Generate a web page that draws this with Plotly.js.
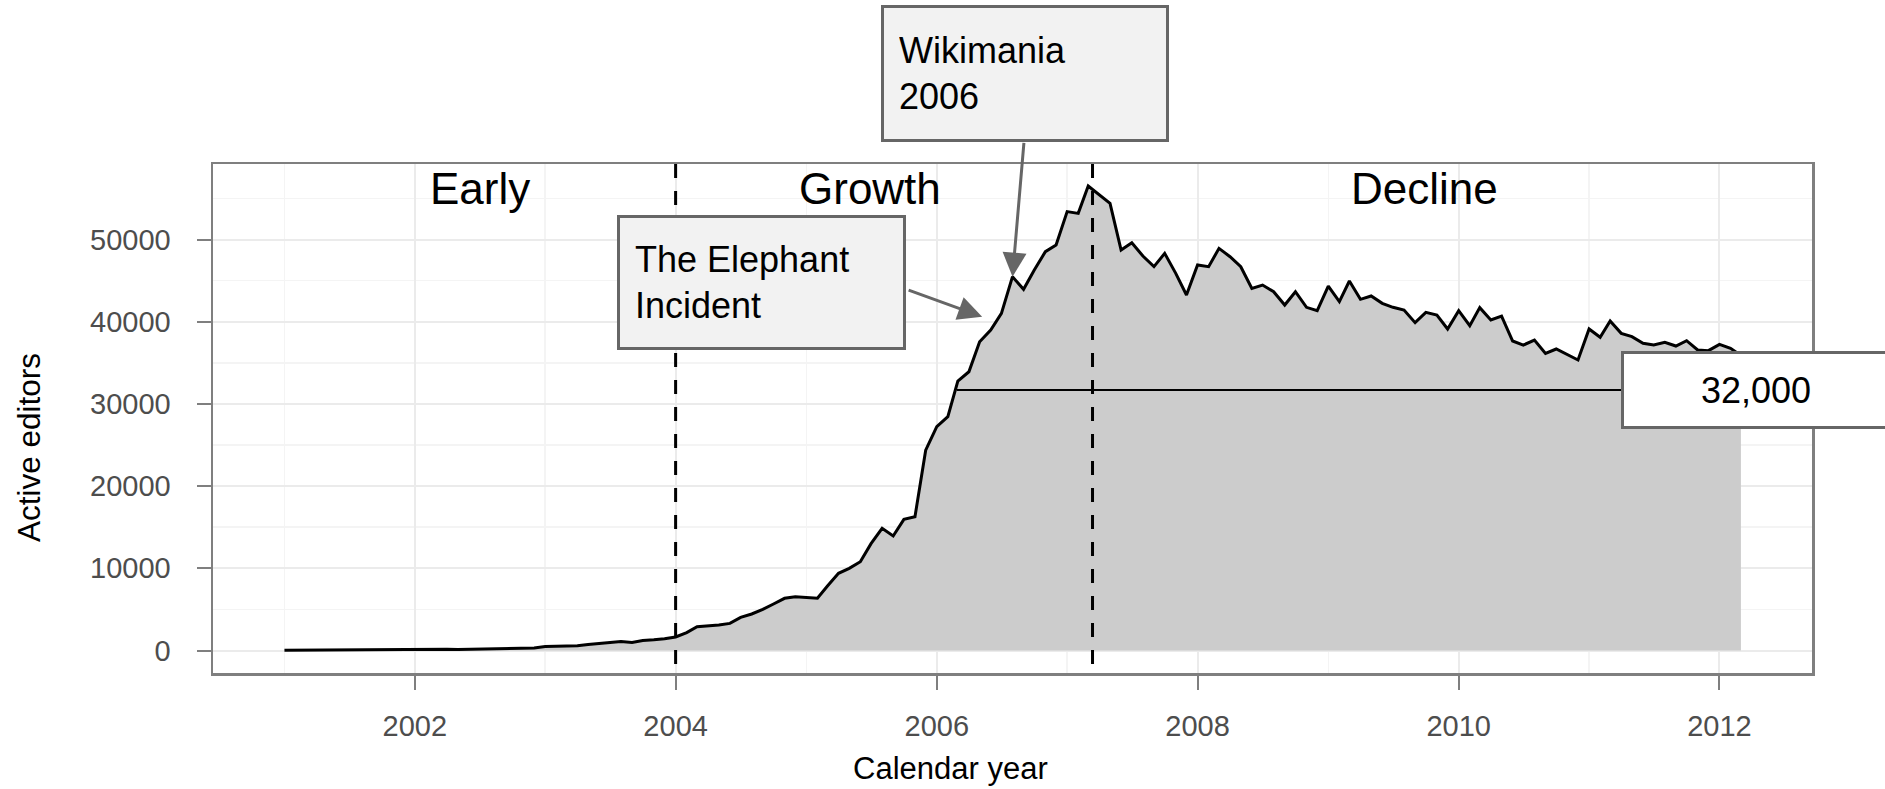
<!DOCTYPE html>
<html>
<head>
<meta charset="utf-8">
<script src="https://cdn.plot.ly/plotly-3.0.1.min.js"></script>
<style>
html,body{margin:0;padding:0;background:#fff;}
#chart{width:1885px;height:789px;}
</style>
</head>
<body>
<div id="chart"></div>
<script>
// ---- data: monthly active editors ----
const editors2001 = [20, 30, 40, 50, 60, 70, 80, 90, 100, 110, 120, 125];
const editors2002 = [130, 170, 230, 160, 110, 140, 170, 180, 200, 240, 250, 310];
const editors2003 = [490, 520, 530, 570, 730, 850, 970, 1090, 980, 1220, 1300, 1420];
const editors2004 = [1650, 2170, 2900, 2980, 3100, 3300, 4030, 4440, 5000, 5660, 6350, 6550];
const editors2005 = [6430, 6350, 7850, 9390, 10000, 10800, 13000, 14860, 13930, 15950, 16280, 24370];
const editors2006 = [27230, 28450, 32780, 33910, 37570, 38990, 41020, 45480, 43940, 46290, 48520, 49330];
const editors2007 = [53390, 53180, 56510, 55450, 54400, 48720, 49610, 47990, 46700, 48310, 45880, 43250];
const editors2008 = [46900, 46690, 48920, 47910, 46690, 44060, 44460, 43650, 42030, 43650, 41750, 41340];
const editors2009 = [44340, 42440, 44950, 42720, 43130, 42230, 41750, 41420, 39880, 41140, 40810, 39110];
const editors2010 = [41340, 39520, 41710, 40210, 40690, 37650, 37160, 37770, 36150, 36680, 35950, 35340];
const editors2011 = [39110, 38100, 40080, 38580, 38180, 37370, 37160, 37490, 37040, 37690, 36560, 36480];
const editors2012 = [37240, 36760, 35900];

const seriesByYear = [
  [2001, editors2001], [2002, editors2002], [2003, editors2003], [2004, editors2004],
  [2005, editors2005], [2006, editors2006], [2007, editors2007], [2008, editors2008],
  [2009, editors2009], [2010, editors2010], [2011, editors2011], [2012, editors2012]
];

// phases
const phaseNames = ['Early', 'Growth', 'Decline'];
const phaseLabelDates = ['2002-07-03', '2005-06-29', '2009-09-27'];
const phaseBoundaries = ['2004-01-01', '2007-03-13'];

// plateau reference
const plateauValue = 31700;
const plateauStart = '2006-02-26';
const plateauLabel = '32,000';

// events
const elephantText = 'The Elephant<br>Incident';
const elephantDate = '2006-05-08';
const elephantValue = 40610;
const wikimaniaText = 'Wikimania<br>2006';
const wikimaniaDate = '2006-08-01';
const wikimaniaValue = editors2006[7];

// axis text
const xTitle = 'Calendar year';
const yTitle = 'Active editors';

// ---- build trace arrays ----
const months = [];
const editors = [];
seriesByYear.forEach(([yr, vals]) => {
  vals.forEach((v, i) => {
    months.push(yr + '-' + String(i + 1).padStart(2, '0') + '-01');
    editors.push(v);
  });
});

// ---- page geometry (pixels) ----
const W = 1885, H = 789;
const M = {l: 213, r: 73, t: 164, b: 116};
const pw = W - M.l - M.r, ph = H - M.t - M.b;
const px = x => (x - M.l) / pw;
const py = y => (H - M.b - y) / ph;

const FONT = 'Liberation Sans, Arial, Helvetica, sans-serif';

const trace = {
  x: months, y: editors, type: 'scatter', mode: 'lines',
  fill: 'tozeroy', fillcolor: '#cccccc',
  line: {color: '#000000', width: 3},
  hoverinfo: 'skip'
};

const shapes = phaseBoundaries.map(d => ({
  type: 'line', xref: 'x', yref: 'paper', x0: d, x1: d, y0: 1, y1: 0,
  line: {color: '#000000', width: 3, dash: '14px,13px'}, layer: 'above'
}));
shapes.push({
  type: 'line', xref: 'x', yref: 'y', x0: plateauStart, x1: months[months.length - 1],
  y0: plateauValue, y1: plateauValue, line: {color: '#000000', width: 2}, layer: 'above'
});

const annotations = phaseNames.map((t, i) => ({
  text: t, xref: 'x', yref: 'y', x: phaseLabelDates[i], y: 56200,
  xanchor: 'center', yanchor: 'middle', showarrow: false,
  font: {family: FONT, size: 44, color: '#000000'}
}));

// axis titles
annotations.push({
  text: xTitle, xref: 'paper', yref: 'paper', x: px(950), y: py(768),
  xanchor: 'center', yanchor: 'middle', showarrow: false,
  font: {family: FONT, size: 31, color: '#000000'}
});
annotations.push({
  text: yTitle, xref: 'paper', yref: 'paper', x: px(29), y: py(448),
  xanchor: 'center', yanchor: 'middle', showarrow: false, textangle: -90,
  font: {family: FONT, size: 31.5, color: '#000000'}
});

// arrows (tail positioned in pixels relative to the pointed data)
annotations.push({
  text: ' ', xref: 'x', yref: 'y', x: wikimaniaDate, y: wikimaniaValue,
  ax: 11.5, ay: -134.7, showarrow: true, arrowhead: 2, arrowsize: 1.6, arrowwidth: 3,
  arrowcolor: '#666666', font: {size: 1}, borderpad: 0
});
annotations.push({
  text: ' ', xref: 'x', yref: 'y', x: elephantDate, y: elephantValue,
  ax: -74, ay: -26.7, showarrow: true, arrowhead: 2, arrowsize: 1.6, arrowwidth: 3,
  arrowcolor: '#666666', font: {size: 1}, borderpad: 0
});

// label boxes
annotations.push({
  text: wikimaniaText, xref: 'paper', yref: 'paper', x: px(881), y: py(5),
  xanchor: 'left', yanchor: 'top', align: 'left', valign: 'middle',
  width: 252, height: 101, borderpad: 15, borderwidth: 3,
  bgcolor: '#f2f2f2', bordercolor: '#666666', showarrow: false,
  font: {family: FONT, size: 36, color: '#000000'}
});
annotations.push({
  text: elephantText, xref: 'paper', yref: 'paper', x: px(617), y: py(215),
  xanchor: 'left', yanchor: 'top', align: 'left', valign: 'middle',
  width: 253, height: 99, borderpad: 15, borderwidth: 3,
  bgcolor: '#f2f2f2', bordercolor: '#666666', showarrow: false,
  font: {family: FONT, size: 36, color: '#000000'}
});
annotations.push({
  text: plateauLabel, xref: 'paper', yref: 'paper', x: px(1621), y: py(351),
  xanchor: 'left', yanchor: 'top', align: 'center', valign: 'middle',
  width: 244, height: 52, borderpad: 10, borderwidth: 3,
  bgcolor: '#ffffff', bordercolor: '#666666', showarrow: false,
  font: {family: FONT, size: 36, color: '#000000'}
});

const axisCommon = {
  ticks: 'outside', ticklen: 14, tickwidth: 2, tickcolor: '#7f7f7f',
  showline: true, mirror: true, linecolor: '#7f7f7f', linewidth: 2.5,
  showgrid: true, gridcolor: '#ebebeb', gridwidth: 2, zeroline: false,
  tickfont: {family: FONT, size: 29, color: '#4d4d4d'}
};

const layout = {
  width: W, height: H, margin: M,
  paper_bgcolor: '#ffffff', plot_bgcolor: '#ffffff',
  showlegend: false,
  font: {family: FONT},
  xaxis: Object.assign({}, axisCommon, {
    type: 'date', range: ['2000-06-15', '2012-09-16'],
    tickformat: '%Y', dtick: 'M24', tick0: '2002-01-01', ticklabelstandoff: 12,
    minor: {dtick: 'M12', showgrid: true, gridcolor: '#f4f4f4', gridwidth: 1.5, ticks: ''}
  }),
  yaxis: Object.assign({}, axisCommon, {
    range: [-2737, 59185], dtick: 10000, tick0: 0, tickformat: 'd', ticklabelstandoff: 20,
    minor: {dtick: 5000, showgrid: true, gridcolor: '#f4f4f4', gridwidth: 1.5, ticks: ''}
  }),
  shapes: shapes,
  annotations: annotations
};

Plotly.newPlot('chart', [trace], layout, {staticPlot: true, displayModeBar: false});
</script>
</body>
</html>
